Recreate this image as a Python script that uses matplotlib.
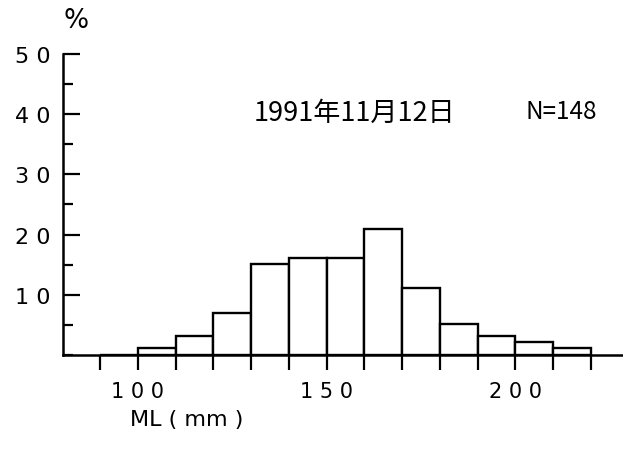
import matplotlib
matplotlib.use("Agg")
import matplotlib.pyplot as plt
from matplotlib.ticker import MultipleLocator

# bin left edges (mm) and percentage of individuals in each 10 mm class
bin_left = [90, 100, 110, 120, 130, 140, 150, 160, 170, 180, 190, 200, 210]
percent = [0.0, 1.1, 3.1, 7.0, 15.1, 16.1, 16.1, 21.0, 11.1, 5.1, 3.1, 2.1, 1.1]
xtick_pos = [100, 150, 200]
xtick_text = ["1 0 0", "1 5 0", "2 0 0"]
ytick_pos = [10, 20, 30, 40, 50]
ytick_text = ["1 0", "2 0", "3 0", "4 0", "5 0"]

W, H = 623, 456
fig = plt.figure(figsize=(W / 100, H / 100), dpi=100)
ax = fig.add_axes([0.1011, 0.2193, 0.897, 0.6601])

ax.bar(bin_left, percent, width=10, align="edge", facecolor="white",
       edgecolor="black", linewidth=1.7, zorder=3)

ax.set_xlim(80.2, 228.2)
ax.set_ylim(0, 50)

for s in ["top", "right"]:
    ax.spines[s].set_visible(False)
ax.spines["left"].set_linewidth(1.8)
ax.spines["bottom"].set_linewidth(1.8)

# x axis: ticks every 10 mm pointing down, labels only at 100/150/200
ax.set_xticks(range(90, 221, 10))
ax.set_xticklabels(["" if v not in xtick_pos else xtick_text[xtick_pos.index(v)]
                    for v in range(90, 221, 10)])
ax.tick_params(axis="x", direction="out", length=11, width=1.6, pad=8,
               labelsize=15)

# y axis: ticks pointing into the plot, minor every 5 %
ax.set_yticks(ytick_pos)
ax.set_yticklabels(ytick_text)
ax.yaxis.set_minor_locator(MultipleLocator(5))
ax.tick_params(axis="y", which="major", direction="in", length=12.5,
               width=1.6, pad=9, labelsize=16)
ax.tick_params(axis="y", which="minor", direction="in", length=7.5, width=1.6)

fig.text(76 / W, 1 - 21 / H, "%", fontsize=19, ha="center", va="center")
fig.text(130 / W, 1 - 420 / H, "ML ( mm )", fontsize=16, ha="left",
         va="center")

fig.text(355 / W, 1 - 113 / H, "1991年11月12日", fontsize=19.5,
         family=["Noto Sans CJK JP", "DejaVu Sans"], ha="center", va="center")
fig.text(561 / W, 1 - 112 / H, "N=148", fontsize=17.5,
         family=["Noto Sans CJK JP", "DejaVu Sans"], ha="center", va="center")

fig.savefig("out.png", dpi=100)
